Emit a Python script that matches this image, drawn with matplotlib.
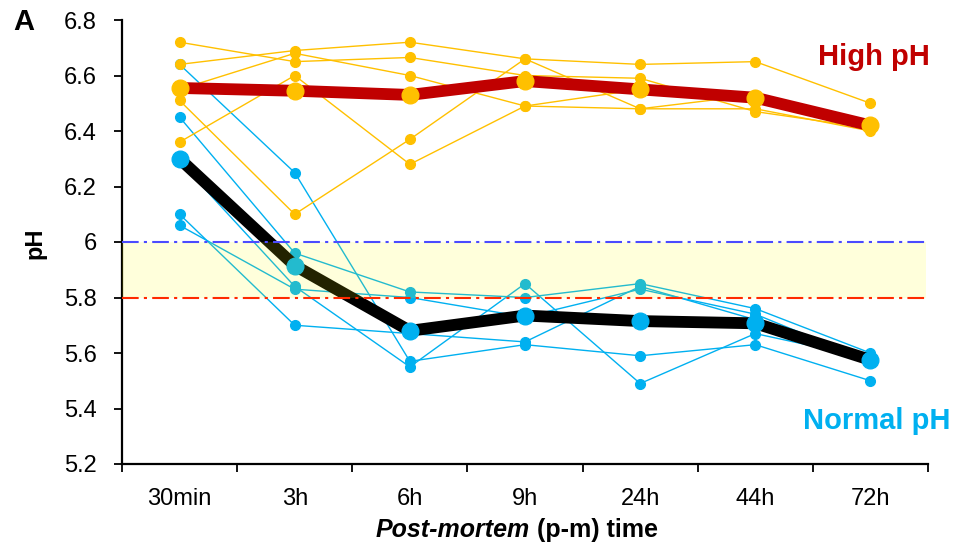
import matplotlib
matplotlib.use("Agg")
import matplotlib.pyplot as plt

plt.rcParams['font.family'] = ['Liberation Sans', 'DejaVu Sans']

categories = ["30min", "3h", "6h", "9h", "24h", "44h", "72h"]

# High pH individuals
high_1 = [6.72, 6.65, 6.665, 6.60, 6.59, 6.47, 6.41]
high_2 = [6.64, 6.69, 6.72, 6.66, 6.64, 6.65, 6.50]
high_3 = [6.55, 6.68, 6.60, 6.49, 6.48, 6.48, 6.40]
high_4 = [6.51, 6.10, 6.37, 6.66, 6.48, 6.53, 6.42]
high_5 = [6.36, 6.60, 6.28, 6.49, 6.55, 6.51, 6.41]
high_mean = [6.555, 6.545, 6.53, 6.58, 6.55, 6.52, 6.42]

# Normal pH individuals
norm_1 = [6.64, 6.25, 5.57, 5.63, 5.59, 5.63, 5.50]
norm_2 = [6.45, 5.96, 5.82, 5.80, 5.85, 5.76, 5.60]
norm_3 = [6.29, 5.84, 5.55, 5.85, 5.49, 5.67, 5.58]
norm_4 = [6.10, 5.70, 5.67, 5.64, 5.84, 5.72, 5.59]
norm_5 = [6.06, 5.83, 5.80, 5.73, 5.83, 5.74, 5.57]
norm_mean = [6.30, 5.915, 5.68, 5.735, 5.715, 5.707, 5.575]

yticks = [5.2, 5.4, 5.6, 5.8, 6.0, 6.2, 6.4, 6.6, 6.8]
ytick_labels = ["5.2", "5.4", "5.6", "5.8", "6", "6.2", "6.4", "6.6", "6.8"]

ORANGE = "#FFC000"
BLUE = "#00B0F0"
DARKRED = "#C00000"

W, H = 960, 554
fig = plt.figure(figsize=(W / 100, H / 100), dpi=100)
ax = fig.add_axes([122 / W, 1 - 464 / H, (928 - 122) / W, (464 - 20) / H])

x = list(range(len(categories)))

for s in [norm_1, norm_2, norm_3, norm_4, norm_5]:
    ax.plot(x, s, color=BLUE, lw=1.0, marker='o', ms=7, mec=BLUE, mfc=BLUE, zorder=3)
for s in [high_1, high_2, high_3, high_4, high_5]:
    ax.plot(x, s, color=ORANGE, lw=1.0, marker='o', ms=7, mec=ORANGE, mfc=ORANGE, zorder=4)

ax.plot(x, norm_mean, color='black', lw=8.5, solid_capstyle='butt', zorder=5)
ax.plot(x, norm_mean, ls='none', marker='o', ms=12, color=BLUE, zorder=6)
ax.plot(x, high_mean, color=DARKRED, lw=8.5, solid_capstyle='butt', zorder=5)
ax.plot(x, high_mean, ls='none', marker='o', ms=12, color=ORANGE, zorder=6)

# Shaded band and threshold lines
ax.axhspan(5.8, 6.0, xmin=0, xmax=0.997, color='yellow', alpha=0.14, lw=0, zorder=10)
ax.axhline(6.0, color='#4B4BFF', lw=1.5, ls=(0, (8, 2.5, 1.5, 2.5)), zorder=11)
ax.axhline(5.8, color='#FF2A00', lw=1.5, ls=(0, (8, 2.5, 1.5, 2.5)), zorder=11)

ax.set_xlim(-0.5, len(categories) - 0.5)
ax.set_ylim(5.2, 6.8)

ax.set_yticks(yticks)
ax.set_yticklabels(ytick_labels, fontsize=17)
ax.set_xticks([i - 0.5 for i in range(len(categories) + 1)])
ax.set_xticklabels([])
ax.set_xticks(x, minor=True)
ax.set_xticklabels(categories, minor=True, fontsize=17)
ax.tick_params(axis='x', which='minor', length=0, pad=17)
ax.tick_params(axis='x', which='major', length=6, width=1.3, direction='out')
ax.tick_params(axis='y', length=6, width=1.3, direction='out', pad=12)

for side in ['top', 'right']:
    ax.spines[side].set_visible(False)
for side in ['left', 'bottom']:
    ax.spines[side].set_linewidth(1.6)

fig.text(35 / W, 1 - 243 / H, "pH", fontsize=17, fontweight='bold', rotation=90,
         ha='center', va='center')

# X label with italic part
fig.text(530 / W, 1 - 530 / H, "Post-mortem", fontsize=18, fontweight='bold',
         style='italic', ha='right', va='center')
fig.text(530 / W, 1 - 530 / H, " (p-m) time", fontsize=18, fontweight='bold',
         ha='left', va='center')

fig.text(24 / W, 1 - 22 / H, "A", fontsize=21, fontweight='bold', ha='center', va='center')
fig.text(874 / W, 1 - 57 / H, "High pH", fontsize=21, fontweight='bold', color=DARKRED,
         ha='center', va='center')
fig.text(877 / W, 1 - 421 / H, "Normal pH", fontsize=21, fontweight='bold', color=BLUE,
         ha='center', va='center')

fig.savefig("out.png", dpi=100)
